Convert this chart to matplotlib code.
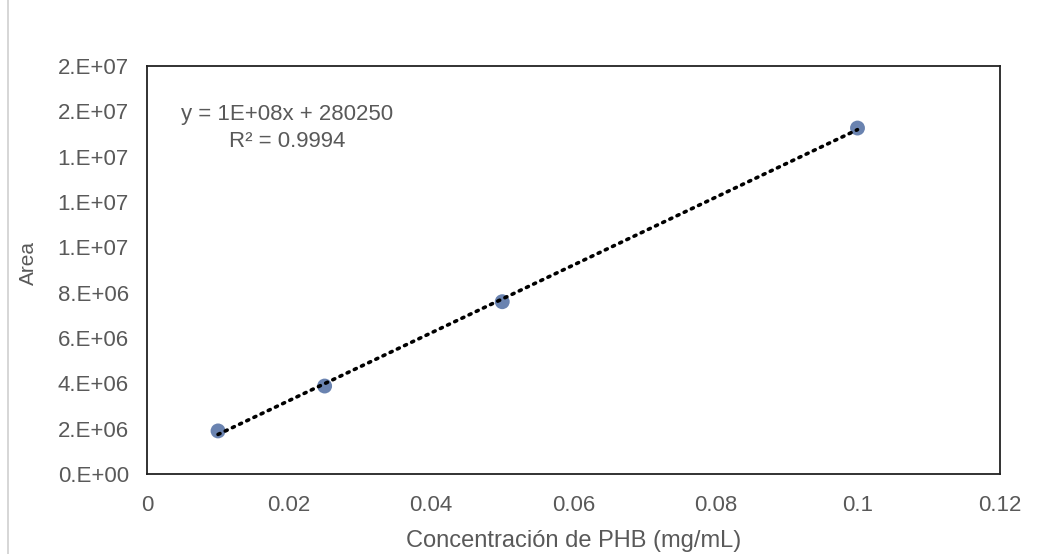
import matplotlib.pyplot as plt
from matplotlib.ticker import FuncFormatter, MultipleLocator
import numpy as np

plt.rcParams['font.family'] = ['Liberation Sans', 'DejaVu Sans']

# datos de la curva de calibracion
concentracion = [0.01, 0.025, 0.05, 0.1]
area = [1.9e6, 3.88e6, 7.6e6, 1.526e7]

ecuacion = "y = 1E+08x + 280250"
r2_texto = "R² = 0.9994"

gris = '#595959'

fig = plt.figure(figsize=(10.5, 5.54), dpi=100)
ax = fig.add_axes([0.140, 0.1444, 0.812, 0.7366])

# linea de tendencia
m, b = np.polyfit(concentracion, area, 1)
xs = np.array([concentracion[0], concentracion[-1]])
ax.plot(xs, m * xs + b, color='black', linewidth=2.6,
        linestyle=(0, (0.6, 1.6)), dash_capstyle='round', zorder=3)

ax.scatter(concentracion, area, s=115, color='#5A76A8', alpha=0.9,
           edgecolors='none', zorder=2)

ax.set_xlim(0, 0.12)
ax.set_ylim(0, 1.8e7)
ax.xaxis.set_major_locator(MultipleLocator(0.02))
ax.yaxis.set_major_locator(MultipleLocator(2e6))
ax.xaxis.set_major_formatter(FuncFormatter(lambda v, p: '0' if v == 0 else f'{v:.2f}'.rstrip('0')))
ax.yaxis.set_major_formatter(FuncFormatter(lambda v, p: f'{v:#.0E}'))

ax.tick_params(length=0, labelsize=16, colors=gris)
ax.tick_params(axis='x', pad=15)
ax.tick_params(axis='y', pad=13)
for s in ax.spines.values():
    s.set_color('#222222')
    s.set_linewidth(1.3)

ax.set_xlabel('Concentración de PHB (mg/mL)', fontsize=17, color=gris)
ax.xaxis.set_label_coords(0.5, -0.178)
ax.xaxis.label.set_va('baseline')
ax.set_ylabel('Area', fontsize=15, color=gris)
ax.yaxis.set_label_coords(-0.128, 0.517)

ax.text(0.164, 0.882, ecuacion, transform=ax.transAxes, fontsize=16,
        color=gris, ha='center', va='center')
ax.text(0.164, 0.814, r2_texto, transform=ax.transAxes, fontsize=16,
        color=gris, ha='center', va='center')

# borde gris a la izquierda de la imagen
fig.add_artist(plt.Line2D([0.008, 0.008], [0, 1], color='#d0d0d0', linewidth=1.2))

fig.savefig('out.png', dpi=100)
